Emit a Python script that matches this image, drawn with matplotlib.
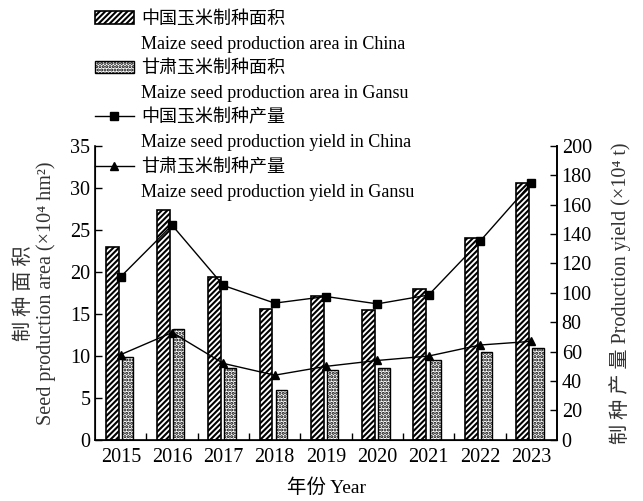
import numpy as np
import matplotlib
matplotlib.use("Agg")
import matplotlib.pyplot as plt
from matplotlib.patches import Patch

plt.rcParams['font.family'] = ['Liberation Serif', 'Noto Sans CJK SC']
plt.rcParams['hatch.linewidth'] = 1.5

years = ['2015', '2016', '2017', '2018', '2019', '2020', '2021', '2022', '2023']
china_area = [22.9, 27.3, 19.4, 15.6, 17.1, 15.4, 17.9, 24.0, 30.6]
gansu_area = [9.9, 13.2, 8.5, 5.9, 8.3, 8.5, 9.5, 10.4, 10.9]
china_yield = [111, 146, 105, 93, 97.5, 92.5, 98.5, 135, 174.5]
gansu_yield = [58, 73, 52, 44, 50, 54, 57, 64.5, 67]

x = np.arange(len(years))

fig = plt.figure(figsize=(6.43, 5.01), dpi=100)
ax = fig.add_axes([0.148, 0.122, 0.718, 0.587])

b1 = ax.bar(x - 0.17, china_area, width=0.25, facecolor='white', edgecolor='black',
            linewidth=1.2, hatch='//////')
b2 = ax.bar(x + 0.13, gansu_area, width=0.22, facecolor='white', edgecolor='black',
            linewidth=1.0, hatch='.....')

ax.set_xlim(-0.5, len(years) - 0.5)
ax.set_ylim(0, 35)
ax.set_yticks(np.arange(0, 36, 5))
ax.set_xticks(x)
ax.set_xticklabels(years)
ax.set_xticks(np.arange(0.5, len(years) - 0.5, 1), minor=True)
ax.tick_params(axis='x', which='major', length=0, labelsize=14.5, pad=6)
ax.tick_params(axis='x', which='minor', direction='in', length=5, width=1)
ax.tick_params(axis='y', direction='in', length=5, width=1, labelsize=14.5)
ax.spines['top'].set_visible(False)
for s in ['left', 'bottom', 'right']:
    ax.spines[s].set_linewidth(1.2)
ax.set_xlabel('年份 Year', fontsize=14, labelpad=8)
ax.set_ylabel('制 种 面 积\nSeed production area (×10⁴ hm²)', fontsize=14.5,
              color='#333333', labelpad=10, linespacing=1.15)

ax2 = ax.twinx()
l1, = ax2.plot(x, china_yield, color='black', linewidth=1.0, marker='s', markersize=6)
l2, = ax2.plot(x, gansu_yield, color='black', linewidth=1.0, marker='^', markersize=6)
ax2.set_ylim(0, 200)
ax2.set_yticks(np.arange(0, 201, 20))
ax2.tick_params(axis='y', direction='in', length=5, width=1, labelsize=14.5)
ax2.spines['top'].set_visible(False)
ax2.spines['right'].set_linewidth(1.2)
ax2.set_ylabel('制 种 产 量 Production yield (×10⁴ t)', fontsize=14.5, color='#333333',
               rotation=90, labelpad=12)

blank = Patch(visible=False)
handles = [b1, blank, b2, blank, l1, blank, l2, blank]
labels = ['中国玉米制种面积', 'Maize seed production area in China',
          '甘肃玉米制种面积', 'Maize seed production area in Gansu',
          '中国玉米制种产量', 'Maize seed production yield in China',
          '甘肃玉米制种产量', 'Maize seed production yield in Gansu']
leg = ax2.legend(handles, labels, loc='upper left', frameon=False, fontsize=13,
                 handlelength=2.2, handleheight=0.7, handletextpad=0.4,
                 labelspacing=0.42, borderaxespad=0, borderpad=0)
leg.set_bbox_to_anchor((0.147, 0.978), transform=fig.transFigure)

fig.savefig('out.png', dpi=100)
